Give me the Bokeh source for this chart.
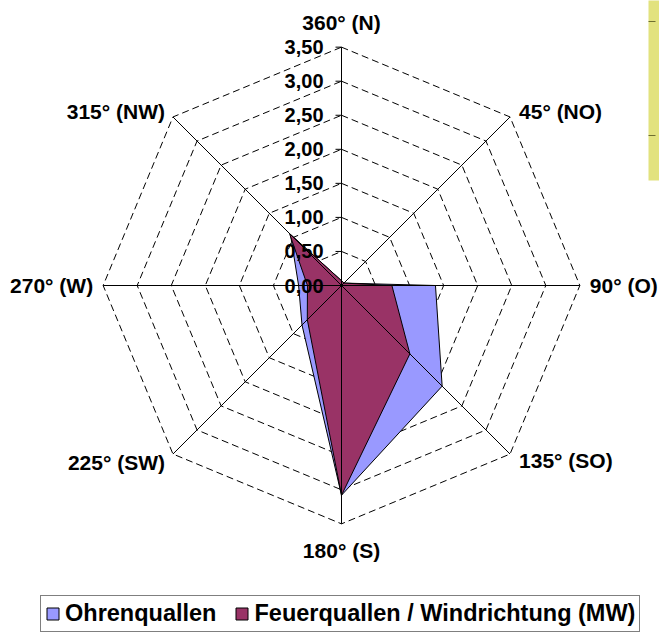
import numpy as np
from bokeh.plotting import figure
from bokeh.models import Range1d, Legend, LegendItem
from bokeh.core.properties import value
from bokeh.embed import file_html
from bokeh.resources import INLINE

# ---- data ----
directions = ["360° (N)", "45° (NO)", "90° (O)", "135° (SO)",
              "180° (S)", "225° (SW)", "270° (W)", "315° (NW)"]
angles_deg = [0, 45, 90, 135, 180, 225, 270, 315]
ohrenquallen = [0.07, 0.05, 1.38, 2.09, 3.08, 0.82, 0.63, 1.06]
feuerquallen = [0.07, 0.05, 0.74, 1.42, 3.08, 0.71, 0.50, 1.08]
tick_values = [0.0, 0.5, 1.0, 1.5, 2.0, 2.5, 3.0, 3.5]
tick_labels = ["0,00", "0,50", "1,00", "1,50", "2,00", "2,50", "3,00", "3,50"]
series_names = ["Ohrenquallen", "Feuerquallen / Windrichtung (MW)"]
series_colors = ["#9999ff", "#993366"]

# ---- layout ----
W, H = 659, 633
CX, CY = 341, 285          # pixel position of the centre
S = 68.1                   # pixels per unit
RMAX = 3.5
FONT = "Liberation Sans"

p = figure(width=W, height=H, output_backend="svg", toolbar_location=None,
           x_range=Range1d(-CX / S, (W - CX) / S),
           y_range=Range1d(-(H - CY) / S, CY / S),
           min_border=0, outline_line_color=None)
p.axis.visible = False
p.xgrid.visible = False
p.ygrid.visible = False
p.background_fill_color = "white"
p.border_fill_color = "white"

th = np.radians(angles_deg)
sx, cy = np.sin(th), np.cos(th)

# decorative partially-visible yellow box at the top right
p.quad(left=[(648 - CX) / S], right=[(W + 5 - CX) / S],
       top=[(CY + 5) / S], bottom=[(CY - 180) / S],
       fill_color="#e2e27e", line_color=None)
p.segment(x0=[(648 - CX) / S] * 2, x1=[(655 - CX) / S] * 2,
          y0=[(CY - 21) / S, (CY - 135) / S], y1=[(CY - 21) / S, (CY - 135) / S],
          line_color="#6e6e30", line_width=1)

# dashed octagon grid
for r in tick_values[1:]:
    xs = list(r * sx) + [r * sx[0]]
    ys = list(r * cy) + [r * cy[0]]
    p.line(xs, ys, line_color="black", line_width=1, line_dash="7 4")

# series polygons
renderers = []
for vals, col in zip([ohrenquallen, feuerquallen], series_colors):
    v = np.array(vals)
    rnd = p.patch(list(v * sx), list(v * cy), fill_color=col, fill_alpha=1,
                  line_color="black", line_width=1)
    renderers.append(rnd)

# spokes
for a, b in zip(sx, cy):
    p.line([0, RMAX * a], [0, RMAX * b], line_color="black", line_width=1)

# ticks on the north axis
tk = 6 / S
p.segment(x0=[-tk] * len(tick_values), y0=tick_values,
          x1=[0] * len(tick_values), y1=tick_values,
          line_color="black", line_width=1)

# tick labels
p.text(x=[-18 / S] * len(tick_values), y=tick_values, text=tick_labels,
       text_align="right", text_baseline="middle",
       text_font=value(FONT), text_font_style="bold",
       text_font_size="20px", text_color="black")

# category labels (offsets in pixels from the outer vertex)
offs = [(0, 25, "center"), (9, 5, "left"), (10, 0, "left"), (9, -6, "left"),
        (0, -27, "center"), (-8, -8, "right"), (-10, 0, "right"), (-8, 5, "right")]
lx = [RMAX * a + o[0] / S for a, o in zip(sx, offs)]
ly = [RMAX * b + o[1] / S for b, o in zip(cy, offs)]
for x, y, t, o in zip(lx, ly, directions, offs):
    p.text(x=[x], y=[y], text=[t], text_align=o[2], text_baseline="middle",
           text_font=value(FONT), text_font_style="bold",
           text_font_size="21px", text_color="black")

legend = Legend(items=[LegendItem(label=n, renderers=[r])
                       for n, r in zip(series_names, renderers)],
                orientation="horizontal", location=(40, 1),
                label_text_font=FONT, label_text_font_style="bold",
                label_text_font_size="23.5px", label_text_color="black",
                label_height=21,
                glyph_width=15, glyph_height=15, label_standoff=5,
                spacing=18, padding=4, margin=0,
                border_line_color="black", border_line_width=1,
                background_fill_color="white", background_fill_alpha=1)
p.add_layout(legend, "center")

open("out.html", "w").write(file_html(p, INLINE))
